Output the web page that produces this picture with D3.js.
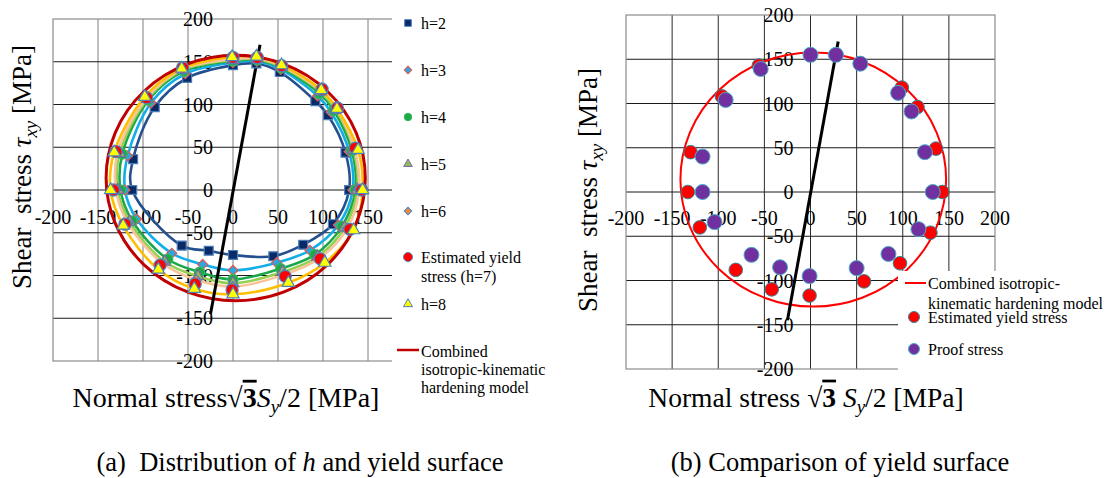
<!DOCTYPE html>
<html>
<head>
<meta charset="utf-8">
<script src="https://cdn.jsdelivr.net/npm/d3@7"></script>
<style>
  body { margin: 0; background: #fff; }
  svg { font-family: "Liberation Serif", "Times New Roman", Times, serif; }
  text { white-space: pre; }
</style>
</head>
<body>
<svg id="chart" width="1115" height="478" font-family="Liberation Serif, Times New Roman, serif"></svg>
<script>
// ---- data (MPa) ----
const tickVals = [-200, -150, -100, -50, 0, 50, 100, 150, 200];

// panel (a): points ordered around the surface, [normal, shear]
const h2 = [[129,0],[125,43.6],[105.5,87.5],[91.5,104],[52,138],[26,148],[0,146],[-51,131],[-87,97],[-111,36],[-112,0],[-57,-65],[-27,-71],[0,-76],[44.8,-77.5],[78,-64],[111,-40]];
const h3 = [[133,0],[129,45],[109,91],[94,110],[53,141],[26.5,150.5],[0,149],[-53,136],[-91,102],[-117,40],[-120,0],[-107,-34],[-68,-74],[-33.7,-87],[0,-94],[48.5,-85],[85.5,-70.5],[117,-41]];
const h4 = [[136,0],[132,46],[112,93],[96,113],[53.5,143],[27,152],[0,151],[-54.5,139],[-94,105],[-123,42],[-125,0],[-112,-36],[-72.5,-81],[-37,-96],[0,-104.6],[53,-92],[91,-75.6],[121,-42.5]];
const h5 = [[138,0],[134,47],[114,94],[97,115],[54,144],[27,153],[0,152],[-55.5,140.5],[-95,106.5],[-126,43],[-128,0],[-115,-37],[-76,-84],[-39,-101],[0,-109],[55,-96],[94,-78],[124,-44]];
const h6 = [[140,0],[135,48],[115,95],[98,116],[54,145],[27,154],[0,153],[-56,141.5],[-96,107.5],[-128,44],[-130,0],[-117,-38.5],[-78,-86],[-41,-105],[0,-113],[56.5,-99],[96,-80],[127,-45]];
const estYield = [[143,0],[136,49],[116,96],[99,118],[54,145.5],[27,155],[0,155],[-56,143],[-96,108],[-130,45],[-133,0],[-120,-40],[-81,-88],[-42,-110],[-1,-117],[58,-101],[97,-80.5],[130,-46]];
const h8 = [[144,0],[139,47],[115.5,95],[98,117],[54,146],[26,156],[-1,155.5],[-57,142],[-98,109],[-132,44],[-136,0],[-122,-41.6],[-83,-93],[-43,-115.5],[0,-122],[61.5,-108.5],[102,-85],[134,-47]];

// panel (b)
const proofStress = [[132.5,0],[124,45],[109.5,91],[95,112],[54,145],[27.6,155],[0,155],[-54,139],[-92,104],[-117,40],[-117,0],[-104,-34],[-64,-71],[-33,-85],[-1,-95],[50,-86],[84.5,-70],[117,-42]];

// combined isotropic-kinematic hardening model: back stress centre and radius
const modelCenter = [3, 14];
const modelRadius = [144, 143.5];
// loading path
const loadPath = [[-25, -145], [30, 170]];

const svg = d3.select("#chart");

// series styling for panel (a)
const seriesA = [
  {name: "h=2", data: h2, curve: "#24508f", sym: d3.symbolSquare, size: 80, rot: 0, fill: "#0a2a66", stroke: "#4a7ebb"},
  {name: "h=3", data: h3, curve: "#12aee8", sym: d3.symbolSquare, size: 50, rot: 45, fill: "#2ba6e0", stroke: "#e5574f"},
  {name: "h=4", data: h4, curve: "#1aa84a", sym: d3.symbolCircle, size: 80, rot: 0, fill: "#1aaa48", stroke: "#35b860"},
  {name: "h=5", data: h5, curve: "#92d050", sym: d3.symbolTriangle, size: 58, rot: 0, fill: "#8cbf5a", stroke: "#8064a2"},
  {name: "h=6", data: h6, curve: "#f9c49a", sym: d3.symbolSquare, size: 50, rot: 45, fill: "#f08a3c", stroke: "#4f81bd"},
  {name: "Estimated yield|stress (h=7)", data: estYield, curve: null, sym: d3.symbolCircle, size: 115, rot: 0, fill: "#ff0000", stroke: "#4f81bd"},
  {name: "h=8", data: h8, curve: "#ffbf00", sym: d3.symbolTriangle, size: 66, rot: 0, fill: "#ffff00", stroke: "#4f81bd"}
];

function frame(x, y, o) {
  const g = svg.append("g");
  g.selectAll(".vg").data(tickVals.slice(1, -1)).join("line")
    .attr("x1", d => x(d)).attr("x2", d => x(d))
    .attr("y1", y(200)).attr("y2", y(-200))
    .attr("stroke", o.vColor).attr("stroke-width", 1);
  g.selectAll(".hg").data(tickVals.slice(1, -1)).join("line")
    .attr("x1", x(-200)).attr("x2", x(200))
    .attr("y1", d => y(d)).attr("y2", d => y(d))
    .attr("stroke", o.hColor).attr("stroke-width", 1);
  g.append("rect")
    .attr("x", x(-200)).attr("y", y(200))
    .attr("width", x(200) - x(-200)).attr("height", y(-200) - y(200))
    .attr("fill", "none").attr("stroke", "#8c8c8c").attr("stroke-width", 1.2);
  return g;
}

function tickLabels(g, x, y, o) {
  g.selectAll(".yl").data(tickVals).join("text")
    .attr("x", x(0) - o.yOff).attr("y", d => y(d)).attr("dy", "0.35em")
    .attr("text-anchor", "end").attr("font-size", 20).text(d => d);
  g.selectAll(".xl").data(tickVals.filter(d => d <= o.xMax)).join("text")
    .attr("x", d => x(d)).attr("y", y(0) + o.xOff).attr("dy", "0.35em")
    .attr("text-anchor", "middle").attr("font-size", 20).text(d => d);
}

// rotated title, baseline at x = bx
function yTitle(bx, cy) {
  const t = svg.append("text")
    .attr("transform", "translate(" + bx + "," + cy + ") rotate(-90)")
    .attr("text-anchor", "middle").attr("font-size", 27);
  t.append("tspan").text("Shear  stress ");
  t.append("tspan").attr("font-style", "italic").text("\u03c4");
  t.append("tspan").attr("font-style", "italic").attr("font-size", 19).attr("dy", 6).text("xy");
  t.append("tspan").attr("dy", -6).text(" [MPa]");
}

function xTitle(cx, cy, spaced, size) {
  const t = svg.append("text")
    .attr("x", cx).attr("y", cy).attr("dy", "0.35em")
    .attr("text-anchor", "middle").attr("font-size", size);
  t.append("tspan").text(spaced ? "Normal stress \u221a" : "Normal stress\u221a");
  t.append("tspan").attr("font-weight", "bold").attr("text-decoration", "overline").text("3");
  t.append("tspan").attr("font-style", "italic").text(spaced ? " S" : "S");
  t.append("tspan").attr("font-style", "italic").attr("font-size", 19).attr("dy", 6).text("y");
  t.append("tspan").attr("dy", -6).text("/2 [MPa]");
}

function symPath(s) {
  return d3.symbol().type(s.sym).size(s.size)();
}

// ================= panel (a) =================
const xA = d3.scaleLinear().domain([-200, 200]).range([53, 413]);
const yA = d3.scaleLinear().domain([-200, 200]).range([361, 19]);

const gA = frame(xA, yA, {vColor: "#7f7f7f", hColor: "#1a1a1a"});
tickLabels(gA, xA, yA, {yOff: 20, xOff: 27, xMax: 150});

const smooth = d3.line().x(d => xA(d[0])).y(d => yA(d[1])).curve(d3.curveCatmullRomClosed.alpha(0.5));

// fitted curves through each h series
gA.selectAll(".hc").data(seriesA.filter(s => s.curve)).join("path")
  .attr("d", s => smooth(s.data))
  .attr("fill", "none").attr("stroke", s => s.curve).attr("stroke-width", 2.6);

// model surface
gA.append("ellipse")
  .attr("cx", xA(modelCenter[0])).attr("cy", yA(modelCenter[1]))
  .attr("rx", xA(modelRadius[0]) - xA(0)).attr("ry", yA(0) - yA(modelRadius[1]))
  .attr("fill", "none").attr("stroke", "#c00000").attr("stroke-width", 3);

gA.append("line")
  .attr("x1", xA(loadPath[0][0])).attr("y1", yA(loadPath[0][1]))
  .attr("x2", xA(loadPath[1][0])).attr("y2", yA(loadPath[1][1]))
  .attr("stroke", "#000").attr("stroke-width", 3);

seriesA.forEach(s => {
  gA.append("g").selectAll("path").data(s.data).join("path")
    .attr("d", symPath(s))
    .attr("transform", d => "translate(" + xA(d[0]) + "," + yA(d[1]) + ") rotate(" + s.rot + ")")
    .attr("fill", s.fill).attr("stroke", s.stroke).attr("stroke-width", 1.2);
});

// legend (a)
const legA = svg.append("g");
legA.append("rect").attr("x", 392).attr("y", 0).attr("width", 170).attr("height", 400).attr("fill", "#fff");
const legAy = [23, 70, 117, 164, 211, 257, 304];
seriesA.forEach((s, i) => {
  legA.append("path")
    .attr("d", d3.symbol().type(s.sym).size(s.size * 0.55)())
    .attr("transform", "translate(408," + legAy[i] + ") rotate(" + s.rot + ")")
    .attr("fill", s.fill).attr("stroke", s.stroke).attr("stroke-width", 1);
  s.name.split("|").forEach((ln, j) => {
    legA.append("text").attr("x", 421).attr("y", legAy[i] + j * 19).attr("dy", "0.35em")
      .attr("font-size", 16).text(ln);
  });
});
legA.append("line").attr("x1", 397).attr("x2", 419).attr("y1", 350).attr("y2", 350)
  .attr("stroke", "#c00000").attr("stroke-width", 2.5);
["Combined", "isotropic-kinematic", "hardening model"].forEach((ln, j) => {
  legA.append("text").attr("x", 421).attr("y", 351 + j * 18).attr("dy", "0.35em")
    .attr("font-size", 16).text(ln);
});

yTitle(31, 167);
xTitle(226, 397, false, 28);

// ================= panel (b) =================
const xB = d3.scaleLinear().domain([-200, 200]).range([626, 995]);
const yB = d3.scaleLinear().domain([-200, 200]).range([369, 15]);

const gB = frame(xB, yB, {vColor: "#2a2a2a", hColor: "#1a1a1a"});
tickLabels(gB, xB, yB, {yOff: 17, xOff: 26, xMax: 200});

gB.append("ellipse")
  .attr("cx", xB(modelCenter[0])).attr("cy", yB(modelCenter[1]))
  .attr("rx", xB(modelRadius[0]) - xB(0)).attr("ry", yB(0) - yB(modelRadius[1]))
  .attr("fill", "none").attr("stroke", "#ff0000").attr("stroke-width", 2);

gB.append("line")
  .attr("x1", xB(loadPath[0][0])).attr("y1", yB(loadPath[0][1]))
  .attr("x2", xB(loadPath[1][0])).attr("y2", yB(loadPath[1][1]))
  .attr("stroke", "#000").attr("stroke-width", 3);

gB.append("g").selectAll("circle").data(estYield).join("circle")
  .attr("cx", d => xB(d[0])).attr("cy", d => yB(d[1])).attr("r", 6.8)
  .attr("fill", "#ff0000").attr("stroke", "#31859c").attr("stroke-width", 1);
gB.append("g").selectAll("circle").data(proofStress).join("circle")
  .attr("cx", d => xB(d[0])).attr("cy", d => yB(d[1])).attr("r", 7.5)
  .attr("fill", "#7030a0").attr("stroke", "#4bacc6").attr("stroke-width", 1);

// legend (b)
const legB = svg.append("g");
legB.append("rect").attr("x", 898).attr("y", 271).attr("width", 217).attr("height", 110).attr("fill", "#fff");
legB.append("line").attr("x1", 905).attr("x2", 926).attr("y1", 283).attr("y2", 283)
  .attr("stroke", "#ff0000").attr("stroke-width", 2);
legB.append("text").attr("x", 928).attr("y", 283).attr("dy", "0.35em").attr("font-size", 16).text("Combined isotropic-");
legB.append("text").attr("x", 928).attr("y", 303).attr("dy", "0.35em").attr("font-size", 16).text("kinematic hardening model");
legB.append("circle").attr("cx", 914).attr("cy", 317).attr("r", 5.5)
  .attr("fill", "#ff0000").attr("stroke", "#31859c").attr("stroke-width", 1);
legB.append("text").attr("x", 928).attr("y", 317).attr("dy", "0.35em").attr("font-size", 16).text("Estimated yield stress");
legB.append("circle").attr("cx", 914).attr("cy", 349).attr("r", 5.5)
  .attr("fill", "#7030a0").attr("stroke", "#4bacc6").attr("stroke-width", 1);
legB.append("text").attr("x", 928).attr("y", 349).attr("dy", "0.35em").attr("font-size", 16).text("Proof stress");

yTitle(597, 190);
xTitle(806, 397, true, 27.5);

// ================= captions =================
const capA = svg.append("text").attr("x", 300).attr("y", 462).attr("dy", "0.35em")
  .attr("text-anchor", "middle").attr("font-size", 26.5);
capA.append("tspan").text("(a)  Distribution of ");
capA.append("tspan").attr("font-style", "italic").text("h");
capA.append("tspan").text(" and yield surface");
svg.append("text").attr("x", 840).attr("y", 462).attr("dy", "0.35em")
  .attr("text-anchor", "middle").attr("font-size", 26.5).text("(b) Comparison of yield surface");
</script>
</body>
</html>
